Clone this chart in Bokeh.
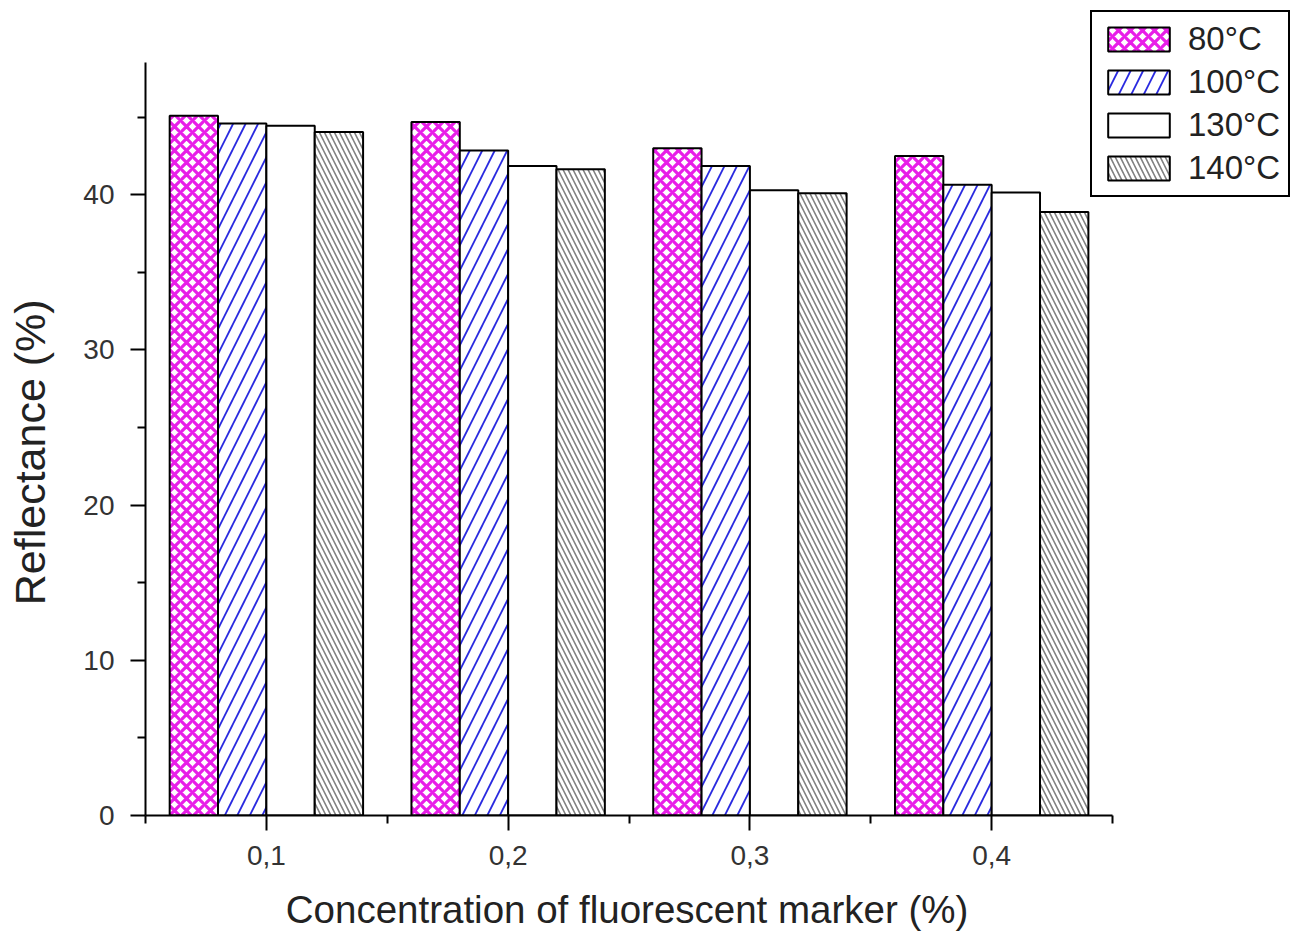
from bokeh.plotting import figure
from bokeh.models import ColumnDataSource, FixedTicker, Legend, LegendItem, Range1d
from bokeh.embed import file_html
from bokeh.resources import INLINE

# ---- data ----
concentrations = [0.1, 0.2, 0.3, 0.4]
tick_labels = ["0,1", "0,2", "0,3", "0,4"]
series_names = ["80°C", "100°C", "130°C", "140°C"]
r80 = [45.1, 44.7, 43.0, 42.5]
r100 = [44.6, 42.85, 41.85, 40.65]
r130 = [44.45, 41.85, 40.3, 40.15]
r140 = [44.05, 41.65, 40.1, 38.9]
y_ticks = [0, 10, 20, 30, 40]

series_values = [r80, r100, r130, r140]
offsets = [-0.03, -0.01, 0.01, 0.03]
bar_w = 0.02

styles = [
    dict(fill_color="white", hatch_pattern="diagonal_cross", hatch_color="#e81ee8",
         hatch_scale=12, hatch_weight=3.2),
    dict(fill_color="white", hatch_pattern="right_diagonal_line", hatch_color="#2a2ae0",
         hatch_scale=25, hatch_weight=1.8),
    dict(fill_color="white"),
    dict(fill_color="white", hatch_pattern="left_diagonal_line", hatch_color="#808080",
         hatch_scale=10, hatch_weight=1.6),
]

FONT = "Liberation Sans"
NBSP = "\u00a0"

p = figure(width=1292, height=941, output_backend="svg", toolbar_location=None,
           x_range=Range1d(0.05, 0.5236), y_range=Range1d(0, 52.2),
           min_border_left=145, min_border_bottom=126, min_border_top=5, min_border_right=2)
p.outline_line_color = None
p.xgrid.visible = False
p.ygrid.visible = False
p.background_fill_color = "white"
p.border_fill_color = "white"

renderers = []
for vals, off, st in zip(series_values, offsets, styles):
    src = ColumnDataSource(dict(x=[c + off for c in concentrations], top=vals))
    r = p.vbar(x="x", top="top", width=bar_w, bottom=0, source=src,
               line_color="black", line_width=2, **st)
    renderers.append(r)

# axes
for ax in (p.xaxis[0], p.yaxis[0]):
    ax.axis_line_width = 2
    ax.axis_line_color = "black"
    ax.major_tick_line_width = 2
    ax.minor_tick_line_width = 2
    ax.major_tick_line_color = "black"
    ax.minor_tick_line_color = "black"
    ax.major_tick_in = 0
    ax.minor_tick_in = 0
    ax.major_tick_out = 15
    ax.minor_tick_out = 8
    ax.major_label_text_font = FONT
    ax.major_label_text_font_size = "28px"
    ax.major_label_text_color = "#333333"
    ax.axis_label_text_font = FONT
    ax.axis_label_text_font_style = "normal"
    ax.axis_label_text_color = "#222222"

p.xaxis.bounds = (0.05, 0.45)
p.yaxis.bounds = (0, 48.5)
p.xaxis.ticker = FixedTicker(ticks=concentrations,
                             minor_ticks=[0.05, 0.15, 0.25, 0.35, 0.45])
p.xaxis.major_label_overrides = {c: t for c, t in zip(concentrations, tick_labels)}
p.yaxis.ticker = FixedTicker(ticks=y_ticks, minor_ticks=[5, 15, 25, 35, 45])
p.xaxis.major_label_standoff = 15
p.yaxis.major_label_standoff = 16
# trailing no-break spaces keep the titles centred on the drawn axis extent
p.xaxis.axis_label = "Concentration of fluorescent marker (%)" + NBSP * 17
p.yaxis.axis_label = "Reflectance (%)" + NBSP * 7
p.xaxis.axis_label_text_font_size = "38.5px"
p.yaxis.axis_label_text_font_size = "43px"
p.xaxis.axis_label_standoff = 20
p.yaxis.axis_label_standoff = 26

legend = Legend(items=[LegendItem(label=n, renderers=[r]) for n, r in zip(series_names, renderers)],
                location=(945, 618))
legend.glyph_width = 77
legend.glyph_height = 30
legend.label_text_font = FONT
legend.label_text_font_size = "33px"
legend.label_text_color = "#222222"
legend.label_standoff = 11
legend.spacing = 5
legend.padding = 8
legend.margin = 0
legend.border_line_color = "black"
legend.border_line_width = 2
legend.border_line_alpha = 1
legend.background_fill_alpha = 1
p.add_layout(legend, "center")

open("out.html", "w").write(file_html(p, INLINE))
